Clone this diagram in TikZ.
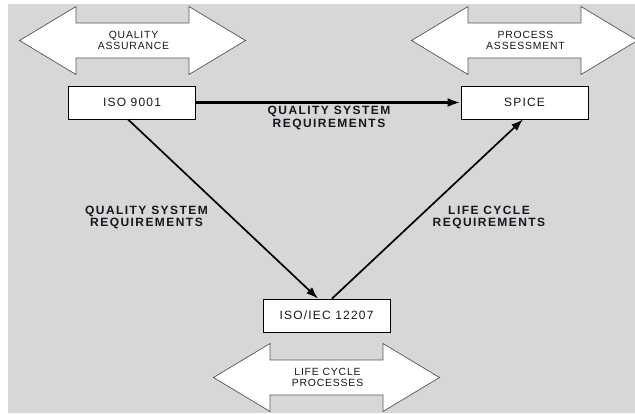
\documentclass[tikz,border=0pt]{standalone}
\usepackage{fontspec}
\setmainfont{Liberation Sans}
\newfontfamily\boxfont[LetterSpace=10]{Liberation Sans}
\newfontfamily\tagfont[LetterSpace=8]{Liberation Sans}
\newfontfamily\linkfont[LetterSpace=12]{Liberation Sans Bold}
\usetikzlibrary{arrows.meta}

\definecolor{backdrop}{RGB}{215,215,215}
\definecolor{ink}{RGB}{22,22,30}
\definecolor{rim}{RGB}{85,85,85}

\tikzset{
  panel/.style={fill=backdrop, draw=none},
  stdbox/.style={draw=black, line width=0.8pt, fill=white,
    minimum width=127pt, minimum height=33pt, inner sep=0pt,
    font=\boxfont\fontsize{12}{14}\selectfont, text=ink},
  arrowtext/.style={align=center, inner sep=0pt,
    font=\tagfont\fontsize{10.4}{10.7}\selectfont, text=ink},
  linktext/.style={align=center, inner sep=0pt,
    font=\linkfont\fontsize{12}{12.3}\selectfont, text=ink},
  arrowshape/.style={draw=rim, line width=0.7pt, fill=white, line join=miter},
  heavy/.style={line width=2.6pt, -{Latex[length=13pt,width=9pt]}},
  light/.style={line width=1.7pt, -{Latex[length=12pt,width=8.5pt]}},
  twoway/.pic={
    \draw[arrowshape] (-113,0) -- (-56.5,-34) -- (-56.5,-17.5) -- (56.5,-17.5)
      -- (56.5,-34) -- (113,0) -- (56.5,34) -- (56.5,17.5) -- (-56.5,17.5)
      -- (-56.5,34) -- cycle;
    \node[arrowtext] (-label) at (1,0) {\tikzpictext};
  }
}

\begin{document}
\begin{tikzpicture}[x=1pt,y=-1pt]
  \useasboundingbox (0,0) rectangle (635,413);
  \fill[panel] (8,4) rectangle (635,413);

  % scope arrows
  \pic (qa) at (132.5,40.5) [pic text={QUALITY\\ASSURANCE}] {twoway};
  \pic (pa) at (524.5,40.5) [pic text={PROCESS\\ASSESSMENT}] {twoway};
  \pic (lc) at (326.5,377.5) [pic text={LIFE CYCLE\\PROCESSES}] {twoway};

  % standards
  \node[stdbox] (iso9001) at (132,102.5) {ISO 9001};
  \node[stdbox] (spice) at (524.5,102.5) {SPICE};
  \node[stdbox] (isoiec) at (326.5,315.5) {ISO/IEC 12207};

  % relations
  \draw[heavy] (iso9001.east) -- (spice.west);
  \draw[light] ([xshift=-4pt]iso9001.south) -- ([xshift=-8.5pt]isoiec.north);
  \draw[light] ([xshift=5.5pt]isoiec.north) -- ([xshift=-1.5pt]spice.south);

  % relation labels
  \node[linktext] (qsrtop) at (329,118) {QUALITY SYSTEM\\REQUIREMENTS};
  \node[linktext] (qsrleft) at (146.5,217.5) {QUALITY SYSTEM\\REQUIREMENTS};
  \node[linktext] (lcr) at (489,217.5) {LIFE CYCLE\\REQUIREMENTS};
\end{tikzpicture}
\end{document}
